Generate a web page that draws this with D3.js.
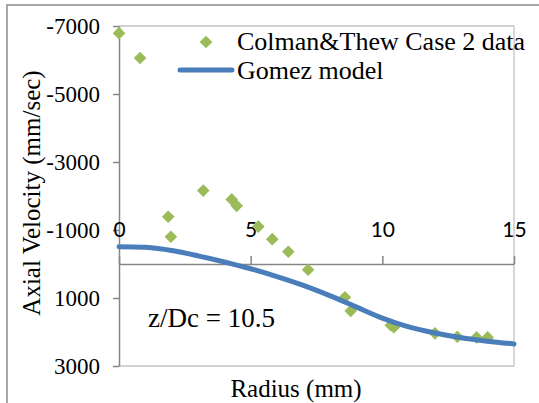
<!DOCTYPE html>
<html>
<head>
<meta charset="utf-8">
<script src="https://cdn.jsdelivr.net/npm/d3@7.9.0/dist/d3.min.js"></script>
<style>
  body { margin: 0; background: #fff; }
  svg { display: block; }
  .serif { font-family: "Liberation Serif", "Times New Roman", serif; fill: #000; }
</style>
</head>
<body>
<svg id="chart" width="539" height="403"></svg>
<script>
// ========== Data ==========
// measured points (Colman & Thew case 2)
const radiusData = [0, 0.8, 1.87, 1.97, 3.2, 4.28, 4.47, 5.29, 5.82, 6.43, 7.18, 8.58, 8.8, 10.32, 10.44, 12.0, 12.85, 13.58, 14.0];
const velocityData = [-6790, -6060, -1390, -800, -2160, -1900, -1710, -1100, -730, -360, 170, 980, 1380, 1800, 1860, 2040, 2140, 2160, 2160];

// model curve (Gomez)
const radiusModel = [0, 1, 2, 3, 4, 5, 6, 7, 8, 9, 10, 11, 12, 13, 14, 15];
const velocityModel = [-510, -490, -395, -240, -60, 140, 370, 630, 930, 1260, 1590, 1850, 2030, 2170, 2270, 2350];

const xTicks = [0, 5, 10, 15];
const yTicks = [-7000, -5000, -3000, -1000, 1000, 3000];

const seriesNames = ['Colman&Thew Case 2 data', 'Gomez model'];

// ========== Layout ==========
const svg = d3.select('#chart');
const plot = { left: 119, top: 26, right: 514, bottom: 366 };
const green = '#9BBB59';
const blue = '#4A7EBB';

const x = d3.scaleLinear().domain([0, 15]).range([plot.left, plot.right]);
const y = d3.scaleLinear().domain([-7000, 3000]).range([plot.top, plot.bottom]);

// outer chart frame
svg.append('rect')
  .attr('x', 7).attr('y', 5)
  .attr('width', 560).attr('height', 420)
  .attr('fill', 'none')
  .attr('stroke', '#8a8a8a')
  .attr('stroke-width', 1.5);

// plot area border (light)
svg.append('path')
  .attr('d', `M${plot.left},${plot.top}H${plot.right}V${plot.bottom}H${plot.left}`)
  .attr('fill', 'none')
  .attr('stroke', '#c4c4c4')
  .attr('stroke-width', 1.3);

// ========== Axes ==========
const yAxis = svg.append('g')
  .attr('transform', `translate(${plot.left},0)`)
  .call(d3.axisLeft(y).tickValues(yTicks).tickSize(6).tickSizeOuter(0).tickPadding(13).tickFormat(d => String(d)));
yAxis.select('.domain').attr('stroke', '#868686').attr('stroke-width', 1.5);
yAxis.selectAll('.tick line').attr('stroke', '#868686').attr('stroke-width', 1.5);
yAxis.selectAll('.tick text')
  .attr('class', 'serif')
  .style('font-size', '23px');

const xAxis = svg.append('g')
  .attr('transform', `translate(0,${y(0)})`)
  .call(d3.axisTop(x).tickValues(xTicks).tickSize(8).tickSizeOuter(0).tickPadding(19));
xAxis.select('.domain').attr('stroke', '#868686').attr('stroke-width', 1.5);
xAxis.selectAll('.tick line').attr('stroke', '#868686').attr('stroke-width', 1.5);
xAxis.selectAll('.tick text')
  .style('font-family', 'Lato, "Open Sans", sans-serif')
  .style('font-size', '21px')
  .attr('fill', '#000');

// ========== Series ==========
const diamond = d3.symbol().type(d3.symbolSquare).size(80);

svg.append('g')
  .selectAll('path')
  .data(radiusData.map((r, i) => [r, velocityData[i]]))
  .join('path')
  .attr('d', diamond)
  .attr('transform', d => `translate(${x(d[0])},${y(d[1])}) rotate(45)`)
  .attr('fill', green);

const line = d3.line()
  .x(d => x(d[0]))
  .y(d => y(d[1]))
  .curve(d3.curveCatmullRom.alpha(0.5));

svg.append('path')
  .datum(radiusModel.map((r, i) => [r, velocityModel[i]]))
  .attr('d', line)
  .attr('fill', 'none')
  .attr('stroke', blue)
  .attr('stroke-width', 5)
  .attr('stroke-linecap', 'round');

// ========== Legend ==========
svg.append('path')
  .attr('d', diamond)
  .attr('transform', 'translate(206,42) rotate(45)')
  .attr('fill', green);
svg.append('line')
  .attr('x1', 180).attr('x2', 232)
  .attr('y1', 70).attr('y2', 70)
  .attr('stroke', blue)
  .attr('stroke-width', 5)
  .attr('stroke-linecap', 'round');

svg.selectAll('.legend-text')
  .data(seriesNames)
  .join('text')
  .attr('class', 'serif')
  .attr('x', 237)
  .attr('y', (d, i) => 50 + i * 29)
  .style('font-size', '26px')
  .text(d => d);

// ========== Titles ==========
svg.append('text')
  .attr('class', 'serif')
  .attr('x', 296)
  .attr('y', 397)
  .attr('text-anchor', 'middle')
  .style('font-size', '25px')
  .text('Radius (mm)');

svg.append('text')
  .attr('class', 'serif')
  .attr('transform', 'translate(40,193) rotate(-90)')
  .attr('text-anchor', 'middle')
  .style('font-size', '25px')
  .text('Axial Velocity (mm/sec)');

svg.append('text')
  .attr('class', 'serif')
  .attr('x', 148)
  .attr('y', 327)
  .style('font-size', '27px')
  .text('z/Dc = 10.5');
</script>
</body>
</html>
